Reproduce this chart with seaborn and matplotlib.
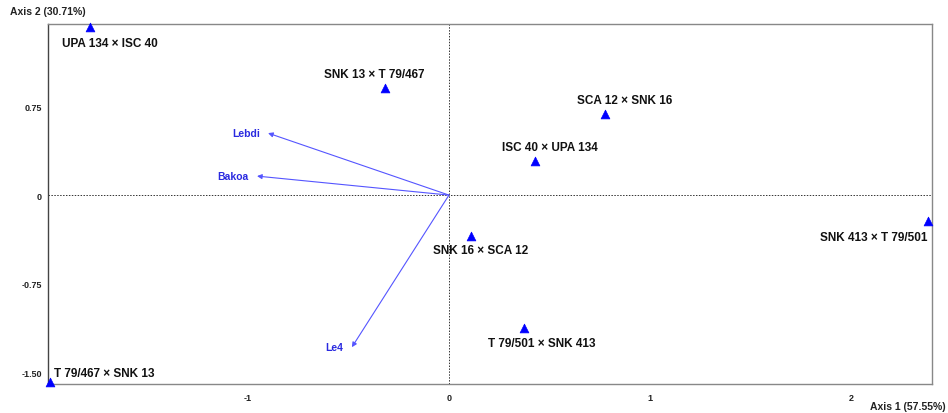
import numpy as np
import pandas as pd
import matplotlib
matplotlib.use("Agg")
import matplotlib.pyplot as plt
import seaborn as sns

# ------------------------------
# Data
# ------------------------------
crosses = ["UPA 134 × ISC 40", "SNK 13 × T 79/467", "SCA 12 × SNK 16",
           "ISC 40 × UPA 134", "SNK 16 × SCA 12", "T 79/501 × SNK 413",
           "SNK 413 × T 79/501", "T 79/467 × SNK 13"]
axis1 = [-1.786, -0.318, 0.776, 0.428, 0.109, 0.373, 2.383, -1.985]
axis2 = [1.424, 0.907, 0.686, 0.288, -0.347, -1.127, -0.220, -1.585]

sites = ["Lebdi", "Bakoa", "Le4"]
site_x = [-0.900, -0.955, -0.483]
site_y = [0.525, 0.161, -1.288]

xticks = [-1, 0, 1, 2]
xtick_labels = ["-1", "0", "1", "2"]
yticks = [-1.5, -0.75, 0, 0.75]
ytick_labels = ["-1.50", "-0.75", "0", "0.75"]

df = pd.DataFrame({"Axis 1": axis1, "Axis 2": axis2, "cross": crosses})

# label offsets in points (dx, dy, ha, va)
offsets = {
    "UPA 134 × ISC 40": (-20, -7, "left", "top"),
    "SNK 13 × T 79/467": (-44, 6, "left", "bottom"),
    "SCA 12 × SNK 16": (-20, 6, "left", "bottom"),
    "ISC 40 × UPA 134": (-24, 6, "left", "bottom"),
    "SNK 16 × SCA 12": (-27, -6, "left", "top"),
    "T 79/501 × SNK 413": (-26, -6, "left", "top"),
    "SNK 413 × T 79/501": (0, -7, "right", "top"),
    "T 79/467 × SNK 13": (3, 2, "left", "bottom"),
}

sns.set_style("white")
plt.rcParams["font.family"] = ["Liberation Sans", "DejaVu Sans"]

fig = plt.figure(figsize=(9.48, 4.14), dpi=100)
ax = fig.add_axes([0.0506, 0.070, 0.9325, 0.8696])

# reference lines through the origin
ax.axhline(0, color="#333333", lw=0.7, ls=(0, (1.5, 1.5)), zorder=1)
ax.axvline(0, color="#333333", lw=0.7, ls=(0, (1.5, 1.5)), zorder=1)

# site vectors
for name, sx, sy in zip(sites, site_x, site_y):
    ax.annotate("", xy=(sx, sy), xytext=(0, 0),
                arrowprops=dict(arrowstyle="-|>", color="#5555ff", lw=0.8,
                                mutation_scale=7, shrinkA=0, shrinkB=0))
    ax.annotate(name, xy=(sx, sy), xytext=(-6, 0), textcoords="offset points",
                ha="right", va="center", fontsize=7.5, fontweight="bold",
                color="#2a2ae0")

sns.scatterplot(data=df, x="Axis 1", y="Axis 2", marker="^", s=40,
                color="#0000ff", edgecolor="#0000ff", linewidth=0.5,
                ax=ax, zorder=3, clip_on=False, legend=False)

for name, x, y in zip(crosses, axis1, axis2):
    dx, dy, ha, va = offsets[name]
    ax.annotate(name, xy=(x, y), xytext=(dx, dy), textcoords="offset points",
                ha=ha, va=va, fontsize=8.5, fontweight="bold", color="#111111")

ax.set_xlim(-1.995, 2.403)
ax.set_ylim(-1.60, 1.449)
ax.set_xticks(xticks)
ax.set_xticklabels(xtick_labels)
ax.set_yticks(yticks)
ax.set_yticklabels(ytick_labels)
ax.set_xlabel("")
ax.set_ylabel("")
ax.tick_params(axis="both", direction="inout", length=5, width=0.8,
               colors="#888888", labelcolor="#222222", labelsize=6.5, pad=2)
ax.tick_params(axis="x", pad=4)
for lab in ax.get_xticklabels() + ax.get_yticklabels():
    lab.set_fontweight("bold")

for side in ["left", "bottom", "top", "right"]:
    ax.spines[side].set_color("#888888")
    ax.spines[side].set_linewidth(1.0)
ax.spines["left"].set_color("#444444")

fig.text(10 / 948, 1 - 12 / 414, "Axis 2 (30.71%)", fontsize=7.5,
         fontweight="bold", ha="left", va="center", color="#222222")
fig.text(946 / 948, 1 - 407 / 414, "Axis 1 (57.55%)", fontsize=7.5,
         fontweight="bold", ha="right", va="center", color="#222222")

fig.savefig("out.png", dpi=100)
